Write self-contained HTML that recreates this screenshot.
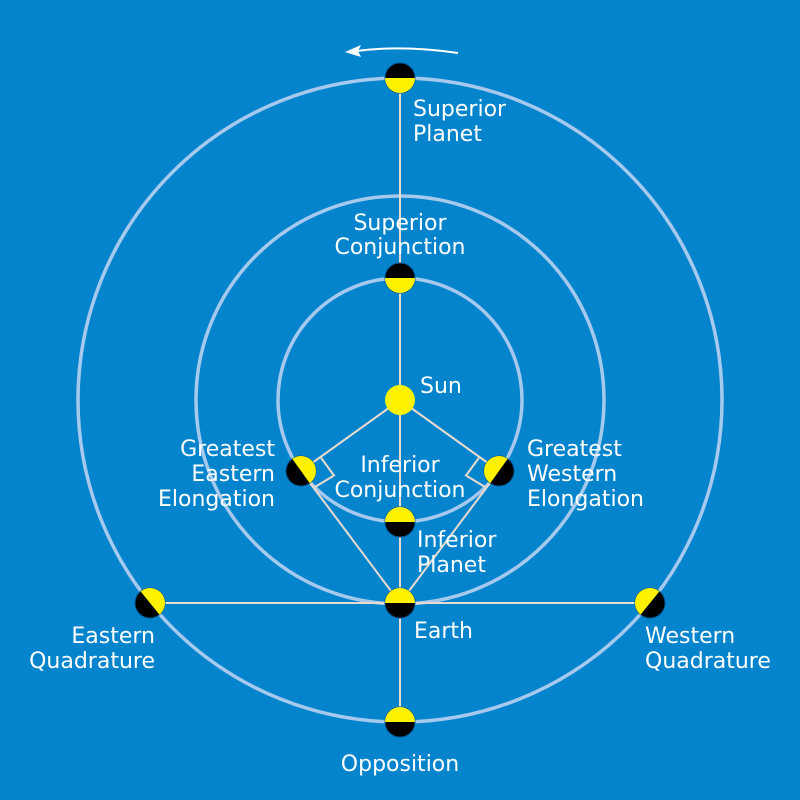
<!DOCTYPE html>
<html><head><meta charset="utf-8"><style>
html,body{margin:0;padding:0;background:#0384cd;}
svg{display:block;}
text{font-family:"DejaVu Sans","Liberation Sans",sans-serif;font-size:22px;fill:#ffffff;}
</style></head><body>
<svg width="800" height="800" viewBox="0 0 800 800" xmlns="http://www.w3.org/2000/svg">
<rect width="800" height="800" fill="#0384cd"/>
<!-- orbits -->
<g fill="none" stroke="#a6c9ee" stroke-width="3.5">
<circle cx="400" cy="400" r="322"/>
<circle cx="400" cy="400" r="204"/>
<circle cx="400" cy="400" r="122"/>
</g>
<!-- lines -->
<g stroke="#eadbcf" stroke-width="2" fill="none">
<line x1="400" y1="78" x2="400" y2="722"/>
<line x1="150" y1="603" x2="650" y2="603"/>
<line x1="400" y1="400" x2="301" y2="471"/>
<line x1="400" y1="400" x2="499" y2="471"/>
<line x1="400" y1="603" x2="301" y2="471"/>
<line x1="400" y1="603" x2="499" y2="471"/>
<polyline points="320.5,457 334,475.5 315,487"/>
<polyline points="479.5,457 466,475.5 485,487"/>
</g>
<!-- arrow -->
<path d="M458 53 Q402 45 356 51" stroke="#fff" stroke-width="2" fill="none"/>
<polygon points="345,52 361,45 358,51 361,57" fill="#fff"/>
<!-- sun -->
<circle cx="400" cy="400" r="15" fill="#fff200"/>
<!-- planets -->
<defs>
<g id="pl">
<circle r="15" fill="#000" stroke="#02508a" stroke-width="1"/>
<path d="M-15 0 A15 15 0 0 1 15 0 Z" fill="#fff200"/>
</g>
</defs>
<use href="#pl" transform="translate(400,78) rotate(180)"/>
<use href="#pl" transform="translate(400,278) rotate(180)"/>
<use href="#pl" transform="translate(400,522)"/>
<use href="#pl" transform="translate(400,603)"/>
<use href="#pl" transform="translate(400,722)"/>
<use href="#pl" transform="translate(150,603) rotate(51)"/>
<use href="#pl" transform="translate(650,603) rotate(-51)"/>
<use href="#pl" transform="translate(301,471) rotate(54.4)"/>
<use href="#pl" transform="translate(499,471) rotate(-54.4)"/>
<!-- labels -->
<text x="413" y="116">Superior</text>
<text x="413" y="141">Planet</text>
<text x="400" y="230" text-anchor="middle">Superior</text>
<text x="400" y="254" text-anchor="middle">Conjunction</text>
<text x="420" y="393">Sun</text>
<text x="275" y="456" text-anchor="end">Greatest</text>
<text x="275" y="481" text-anchor="end">Eastern</text>
<text x="275" y="506" text-anchor="end">Elongation</text>
<text x="527" y="456">Greatest</text>
<text x="527" y="481">Western</text>
<text x="527" y="506">Elongation</text>
<text x="400" y="472" text-anchor="middle">Inferior</text>
<text x="400" y="497" text-anchor="middle">Conjunction</text>
<text x="417" y="547">Inferior</text>
<text x="417" y="572">Planet</text>
<text x="414" y="638">Earth</text>
<text x="155" y="643" text-anchor="end">Eastern</text>
<text x="155" y="668" text-anchor="end">Quadrature</text>
<text x="645" y="643">Western</text>
<text x="645" y="668">Quadrature</text>
<text x="400" y="771" text-anchor="middle">Opposition</text>
</svg>
</body></html>
